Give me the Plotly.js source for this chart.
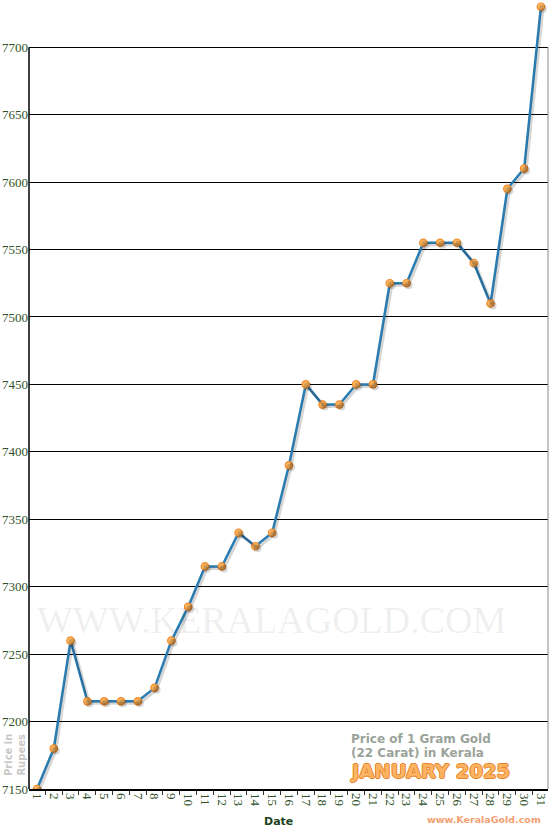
<!DOCTYPE html>
<html>
<head>
<meta charset="utf-8">
<script src="https://cdn.plot.ly/plotly-3.0.1.min.js"></script>
<style>
  html, body { margin: 0; padding: 0; background: #fff; }
  #chart { width: 550px; height: 830px; }
</style>
</head>
<body>
<div id="chart"></div>
<script>
// gold price per gram (22 carat), Kerala, January 2025
var days = ['1','2','3','4','5','6','7','8','9','10','11','12','13','14','15','16',
            '17','18','19','20','21','22','23','24','25','26','27','28','29','30','31'];
var prices = [7150, 7180, 7260, 7215, 7215, 7215, 7215, 7225, 7260, 7285, 7315,
              7315, 7340, 7330, 7340, 7390, 7450, 7435, 7435, 7450, 7450, 7525,
              7525, 7555, 7555, 7555, 7540, 7510, 7595, 7610, 7730];

var xr = [-0.476, 30.42];
var yr = [7150, 7735];
// shadow drawn ~2px right / 2px down via shifted overlay axes
var dx = 2 / 16.8, dy = 2 / 1.349;

var green = '#2f5228';
var serif = '"Liberation Serif", "DejaVu Serif", serif';
var sans = '"DejaVu Sans", Verdana, sans-serif';
var tickFont = {family: serif, size: 13, color: green};

var shadow = {
  x: days, y: prices, xaxis: 'x2', yaxis: 'y2',
  type: 'scatter', mode: 'lines+markers', hoverinfo: 'skip',
  line: {color: 'rgba(0,0,0,0.16)', width: 3},
  marker: {size: 8, color: 'rgba(0,0,0,0.16)'}
};
var trace1 = {
  x: days, y: prices,
  type: 'scatter', mode: 'lines+markers',
  line: {color: '#2a7db3', width: 2.5},
  marker: {size: 7.5, color: '#fdb65e', line: {color: '#ef8a2c', width: 1.2}}
};

var layout = {
  width: 550, height: 830,
  margin: {l: 29, r: 2, t: 0, b: 41},
  paper_bgcolor: '#fff', plot_bgcolor: '#fff',
  showlegend: false,
  xaxis: {
    type: 'category', range: xr, fixedrange: true,
    tickson: 'boundaries', ticks: 'outside', ticklen: 4, tickcolor: '#333', tickwidth: 1,
    tickangle: 90, tickfont: tickFont,
    showgrid: false, zeroline: false,
    showline: true, linecolor: '#000', linewidth: 1.5
  },
  yaxis: {
    range: yr, tick0: 7150, dtick: 50, fixedrange: true,
    ticks: '', tickfont: tickFont,
    showgrid: true, gridcolor: '#000', gridwidth: 1,
    zeroline: false, showline: false
  },
  xaxis2: {type: 'category', overlaying: 'x', range: [xr[0] - dx, xr[1] - dx], visible: false, fixedrange: true},
  yaxis2: {overlaying: 'y', range: [yr[0] + dy, yr[1] + dy], visible: false, fixedrange: true},
  shapes: [
    {type: 'line', xref: 'paper', yref: 'y', x0: 0, x1: 0, y0: 7150, y1: 7700,
     line: {color: '#000', width: 1.5}},
    {type: 'line', xref: 'paper', yref: 'y', x0: 1, x1: 1, y0: 7150, y1: 7700,
     line: {color: '#888', width: 1}}
  ],
  annotations: [
    {text: 'WWW.KERALAGOLD.COM', xref: 'paper', yref: 'paper', x: 0.468, y: 0.214,
     xanchor: 'center', yanchor: 'middle', showarrow: false,
     font: {family: serif, size: 38, color: 'rgba(0,0,0,0.075)'}},
    {text: 'Price in<br>Rupees', xref: 'paper', yref: 'paper', x: -0.027, y: 0.043,
     xanchor: 'center', yanchor: 'middle', textangle: -90, showarrow: false,
     font: {family: sans, size: 10, weight: 'bold', color: '#c8c8c8'}},
    {text: 'Date', xref: 'paper', yref: 'paper', x: 0.48, y: -0.0406,
     xanchor: 'center', yanchor: 'middle', showarrow: false,
     font: {family: sans, size: 11, weight: 'bold', color: '#1e3f1c'}},
    {text: 'Price of 1 Gram Gold', xref: 'paper', yref: 'paper', x: 0.6166, y: 0.0634,
     xanchor: 'left', yanchor: 'middle', showarrow: false,
     font: {family: sans, size: 12, weight: 'bold', color: '#9aa39a'}},
    {text: '(22 Carat) in Kerala', xref: 'paper', yref: 'paper', x: 0.6166, y: 0.0456,
     xanchor: 'left', yanchor: 'middle', showarrow: false,
     font: {family: sans, size: 12, weight: 'bold', color: '#9aa39a'}},
    {text: 'JANUARY 2025', xref: 'paper', yref: 'paper', x: 0.6146, y: 0.0228,
     xanchor: 'left', yanchor: 'middle', showarrow: false,
     font: {family: sans, size: 19.5, weight: 'bold', color: '#fcb462',
            shadow: '1px 0 0 #e8842a, -1px 0 0 #e8842a, 0 1px 0 #e8842a, 0 -1px 0 #e8842a'}},
    {text: 'www.KeralaGold.com', xref: 'paper', yref: 'paper', x: 0.877, y: -0.039,
     xanchor: 'center', yanchor: 'middle', showarrow: false,
     font: {family: sans, size: 9.5, weight: 'bold', color: '#f4a070'}}
  ]
};

Plotly.newPlot('chart', [shadow, trace1], layout, {displayModeBar: false, staticPlot: true});
</script>
</body>
</html>
